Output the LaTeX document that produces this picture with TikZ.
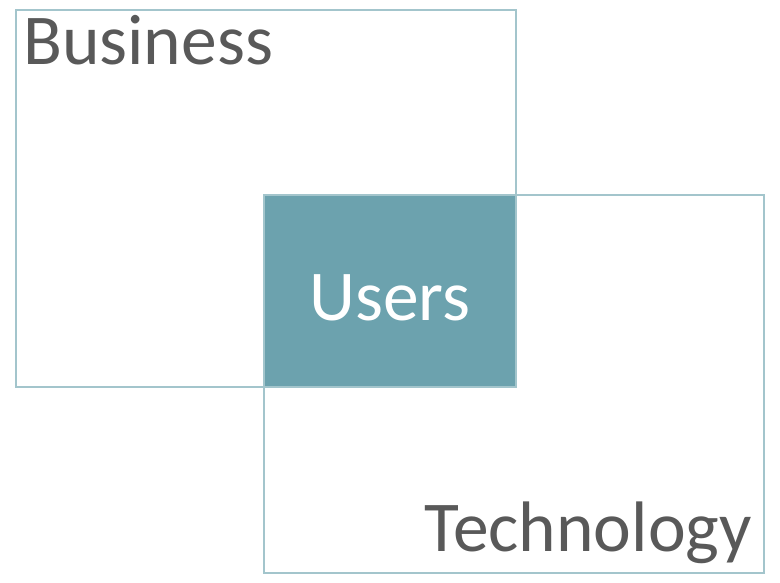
\documentclass[tikz,border=0pt]{standalone}
\usepackage{fontspec}
\setmainfont{Carlito}
\definecolor{edgec}{HTML}{A3C5CC}
\definecolor{fillc}{HTML}{6CA2AE}
\definecolor{textc}{HTML}{595959}
\begin{document}
\begin{tikzpicture}[x=1pt,y=-1pt,
  boxc/.style={draw=edgec,line width=1.8pt},
  lbl/.style={inner sep=0pt,font=\fontsize{71.5}{80}\selectfont}]
\useasboundingbox (0,0) rectangle (780,583);
\draw[boxc] (16,10) rectangle (516,387);
\draw[boxc] (264,195) rectangle (764,573);
\draw[boxc,fill=fillc] (264,195) rectangle (516,387);
\node[lbl,text=textc,anchor=base west] (business) at (23,65) {Business};
\node[lbl,text=white,anchor=base] (users) at (390,320) {Users};
\node[lbl,text=textc,anchor=base east] (technology) at (752,551) {Technology};
\end{tikzpicture}
\end{document}
